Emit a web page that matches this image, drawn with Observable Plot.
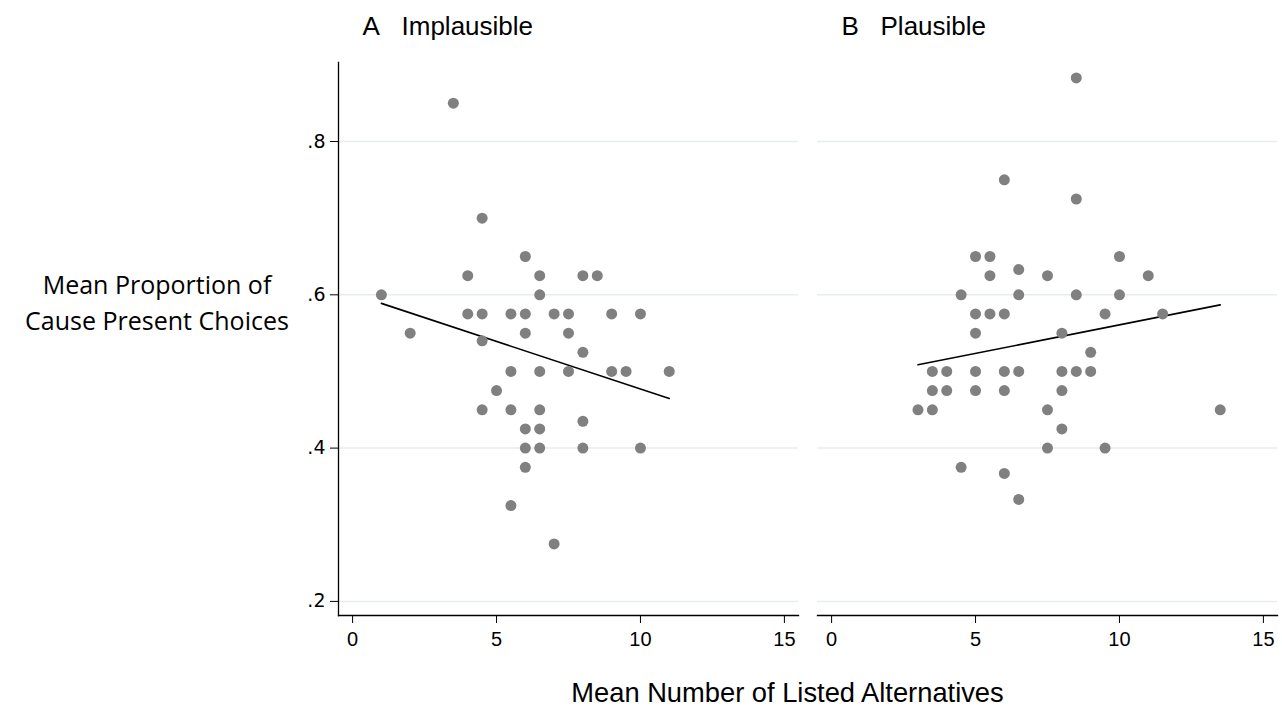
<!DOCTYPE html>
<html>
<head>
<meta charset="utf-8">
<script src="https://cdn.jsdelivr.net/npm/d3@7"></script>
<script src="https://cdn.jsdelivr.net/npm/@observablehq/plot@0.6"></script>
<style>
  html, body { margin: 0; padding: 0; background: #fff; }
  #wrap { position: relative; width: 1282px; height: 713px; overflow: hidden; background: #fff; }
  #wrap svg { position: absolute; top: 0; }
  .ytitle { position: absolute; left: 0; width: 314px; top: 266px; text-align: center;
            font-family: "Open Sans", Lato, sans-serif; font-size: 25px; line-height: 36px; color: #000; }
  .xtitle { position: absolute; left: 0; width: 1575px; top: 677px; text-align: center;
            font-family: "Liberation Sans", Arial, sans-serif; font-size: 27.3px; color: #000; }
</style>
</head>
<body>
<div id="wrap">
  <div class="ytitle">Mean Proportion of<br>Cause Present Choices</div>
  <div class="xtitle">Mean Number of Listed Alternatives</div>
</div>
<script>
// ---- data ----
const panelTitles = ["A\u00a0\u00a0\u00a0Implausible", "B\u00a0\u00a0\u00a0Plausible"];
const xTicks = [0, 5, 10, 15];
const yTicks = [0.2, 0.4, 0.6, 0.8];
const yTickLabels = [".2", ".4", ".6", ".8"];

// A: Implausible
const implX = [3.5, 4.5, 6, 4, 6.5, 8, 8.5, 1, 6.5,
  4, 4.5, 5.5, 6, 7, 7.5, 9, 10,
  2, 6, 7.5, 4.5, 8,
  5.5, 6.5, 7.5, 9, 9.5, 11,
  5, 4.5, 5.5, 6.5, 8, 6, 6.5,
  6, 6.5, 8, 10, 6, 5.5, 7];
const implY = [0.85, 0.70, 0.65, 0.625, 0.625, 0.625, 0.625, 0.60, 0.60,
  0.575, 0.575, 0.575, 0.575, 0.575, 0.575, 0.575, 0.575,
  0.55, 0.55, 0.55, 0.54, 0.525,
  0.50, 0.50, 0.50, 0.50, 0.50, 0.50,
  0.475, 0.45, 0.45, 0.45, 0.435, 0.425, 0.425,
  0.40, 0.40, 0.40, 0.40, 0.375, 0.325, 0.275];

// B: Plausible
const plausX = [8.5, 6, 8.5, 5, 5.5, 10, 6.5, 5.5, 7.5, 11,
  4.5, 6.5, 8.5, 10, 5, 5.5, 6, 9.5, 11.5,
  5, 8, 9,
  3.5, 4, 5, 6, 6.5, 8, 8.5, 9,
  3.5, 4, 5, 6, 8,
  3, 3.5, 7.5, 13.5,
  8, 7.5, 9.5, 4.5, 6, 6.5];
const plausY = [0.883, 0.75, 0.725, 0.65, 0.65, 0.65, 0.633, 0.625, 0.625, 0.625,
  0.60, 0.60, 0.60, 0.60, 0.575, 0.575, 0.575, 0.575, 0.575,
  0.55, 0.55, 0.525,
  0.50, 0.50, 0.50, 0.50, 0.50, 0.50, 0.50, 0.50,
  0.475, 0.475, 0.475, 0.475, 0.475,
  0.45, 0.45, 0.45, 0.45,
  0.425, 0.40, 0.40, 0.375, 0.367, 0.333];

const xDomain = [-0.49, 15.49];
const yDomain = [0.1816, 0.9031];

function rows(xs, ys) { return xs.map((x, i) => ({x, y: ys[i]})); }

function panel(data, title, opts) {
  const marks = [
    Plot.gridY(yTicks, {stroke: "#e6eef0", strokeOpacity: 1, strokeWidth: 1.5}),
    Plot.frame({anchor: "bottom", stroke: "#000", strokeWidth: 1.3}),
    Plot.axisX(xTicks, {tickSize: 8, tickPadding: 8, fontSize: 20,
      fontFamily: "Liberation Sans, Arial, sans-serif", label: null, tickFormat: d => String(d)}),
    Plot.linearRegressionY(data, {x: "x", y: "y", stroke: "#000", strokeWidth: 1.6, ci: 0}),
    Plot.dot(data, {x: "x", y: "y", r: 5.5, fill: "#808080", stroke: "none"}),
    Plot.text([title], {frameAnchor: "top-left", text: d => d, textAnchor: "start",
      lineAnchor: "bottom", dx: 24, dy: -28, fontSize: 26, fill: "#000",
      fontFamily: "Liberation Sans, Arial, sans-serif"})
  ];
  if (opts.showY) {
    marks.push(Plot.frame({anchor: "left", stroke: "#000", strokeWidth: 1.3}));
    marks.push(Plot.axisY(yTicks, {tickSize: 8, tickPadding: 5, fontSize: 19,
      fontFamily: "DejaVu Sans, Verdana, sans-serif", label: null,
      tickFormat: d => yTickLabels[yTicks.indexOf(d)]}));
  }
  const svg = Plot.plot({
    width: opts.width, height: 713,
    marginLeft: opts.marginLeft, marginRight: opts.marginRight,
    marginTop: 62, marginBottom: 98,
    x: {domain: xDomain},
    y: opts.showY ? {domain: yDomain} : {domain: yDomain, axis: null},
    style: {background: "transparent", color: "#000", overflow: "visible"},
    marks
  });
  svg.style.left = opts.left + "px";
  return svg;
}

const wrap = document.getElementById("wrap");
wrap.appendChild(panel(rows(implX, implY), panelTitles[0], {width: 800, left: 0, marginLeft: 338, marginRight: 2, showY: true}));
wrap.appendChild(panel(rows(plausX, plausY), panelTitles[1], {width: 482, left: 800, marginLeft: 17, marginRight: 5, showY: false}));
</script>
</body>
</html>
